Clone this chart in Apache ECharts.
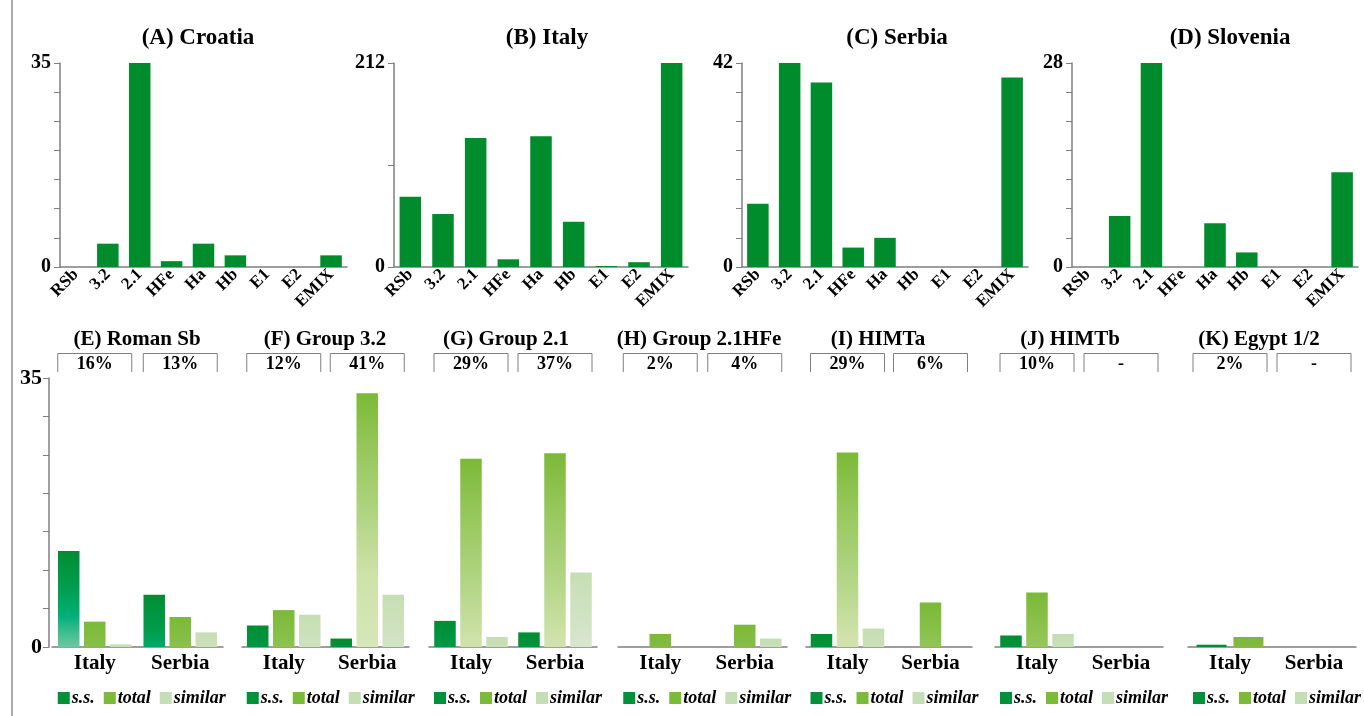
<!DOCTYPE html>
<html>
<head>
<meta charset="utf-8">
<script src="https://cdn.jsdelivr.net/npm/echarts@6/dist/echarts.min.js"></script>
<style>
  html, body { margin: 0; padding: 0; background: #ffffff; }
  #chart { width: 1364px; height: 716px; }
</style>
</head>
<body>
<div id="chart"></div>
<script>
// ---- haplogroup counts per country (panels A-D) ----
const haplogroups = ['RSb', '3.2', '2.1', 'HFe', 'Ha', 'Hb', 'E1', 'E2', 'EMIX'];
const countryTitles = ['(A) Croatia', '(B) Italy', '(C) Serbia', '(D) Slovenia'];
const croatiaCounts = [0, 4, 35, 1, 4, 2, 0, 0, 2];
const italyCounts = [73, 55, 134, 8, 136, 47, 1, 5, 212];
const serbiaCounts = [13, 42, 38, 4, 6, 0, 0, 0, 39];
const sloveniaCounts = [0, 7, 28, 0, 6, 2, 0, 0, 13];
const countryAxisMax = [35, 212, 42, 28];
const countryAxisStep = [5, 106, 6, 4];

// ---- group comparison Italy vs Serbia (panels E-K) ----
const compareCountries = ['Italy', 'Serbia'];
const groupTitles = ['(E) Roman Sb', '(F) Group 3.2', '(G) Group 2.1', '(H) Group 2.1HFe', '(I) HIMTa', '(J) HIMTb', '(K) Egypt 1/2'];
const groupShares = [['16%', '13%'], ['12%', '41%'], ['29%', '37%'], ['2%', '4%'], ['29%', '6%'], ['10%', '-'], ['2%', '-']];
const ssValues = [[12.5, 6.8], [2.8, 1.1], [3.4, 1.9], [0, 0], [1.7, 0], [1.5, 0], [0.3, 0]];
const totalValues = [[3.3, 3.9], [4.8, 33.0], [24.5, 25.2], [1.7, 2.9], [25.3, 5.8], [7.1, 0], [1.3, 0]];
const similarValues = [[0.35, 1.9], [4.2, 6.8], [1.3, 9.7], [0, 1.1], [2.4, 0], [1.7, 0], null];
const compareAxisMax = 35;
const compareAxisStep = 5;
const seriesNames = ['s.s.', 'total', 'similar'];

// ---- layout ----
const W = 1364, H = 716;
const FONT = "'Liberation Serif', 'Times New Roman', serif";
const AXIS_GREY = '#7f7f7f';
const topGridX = [[60, 347], [394, 688], [742, 1028], [1072, 1358]];
const topGridY = [63, 267];
const topTitleX = [198, 547, 897, 1230];
const bottomGridX = [[52, 223], [242, 409], [429, 597], [618, 787], [806, 972], [995, 1163], [1188, 1356]];
const bottomGridY = [378, 647];
const bottomTitleX = [137, 325, 506, 699, 878, 1070, 1259];

// colours
const BAR_GREEN = '#008b2d';
const legendColors = { 's.s.': '#00913a', 'total': '#7cba3a', 'similar': '#c6deb5' };
// gradient stops measured from the top of each bar, in axis units
const ssStops = [[0, '#008d32'], [5, '#009f50'], [8.5, '#00b07a'], [10, '#2db98a'], [12.5, '#6cc9a2']];
const totalStops = [[0, '#7bb937'], [6, '#92c555'], [15, '#aed37f'], [24, '#cfe2aa'], [33, '#d6e7b8']];
const similarStops = [[0, '#c6deb4'], [7, '#d3e4c6'], [10, '#d9e6cf']];

function hexToRgb(h) {
  const n = parseInt(h.slice(1), 16);
  return [(n >> 16) & 255, (n >> 8) & 255, n & 255];
}
function mix(a, b, t) {
  const A = hexToRgb(a), B = hexToRgb(b);
  const c = A.map((v, i) => Math.round(v + (B[i] - v) * t));
  return 'rgb(' + c.join(',') + ')';
}
function shade(stops, v) {
  if (v <= 0) return stops[0][1];
  const cs = [];
  for (let i = 0; i < stops.length; i++) {
    const u = stops[i][0], c = stops[i][1];
    if (u <= v) {
      cs.push({ offset: u / v, color: c });
    } else {
      const u0 = stops[i - 1][0], c0 = stops[i - 1][1];
      cs.push({ offset: 1, color: mix(c0, c, (v - u0) / (u - u0)) });
      break;
    }
  }
  return { type: 'linear', x: 0, y: 0, x2: 0, y2: 1, colorStops: cs };
}

const grid = [], xAxis = [], yAxis = [], series = [], legend = [], graphic = [];

// frame line on the left
graphic.push({ type: 'line', shape: { x1: 12, y1: 0, x2: 12, y2: H }, style: { stroke: '#8c8c8c', lineWidth: 1.5 } });

// ---- panels A-D ----
const countryCounts = [croatiaCounts, italyCounts, serbiaCounts, sloveniaCounts];
countryCounts.forEach((counts, i) => {
  const [x0, x1] = topGridX[i];
  grid.push({ left: x0, right: W - x1, top: topGridY[0], height: topGridY[1] - topGridY[0] });
  xAxis.push({
    type: 'category', gridIndex: i, data: haplogroups,
    axisLine: { lineStyle: { color: AXIS_GREY, width: 1.5 } },
    axisTick: { show: false },
    axisLabel: { interval: 0, rotate: 45, margin: 5, color: '#000', fontFamily: FONT, fontWeight: 'bold', fontSize: 17 }
  });
  const mx = countryAxisMax[i];
  yAxis.push({
    type: 'value', gridIndex: i, min: 0, max: mx, interval: countryAxisStep[i],
    splitLine: { show: false },
    axisLine: { show: true, lineStyle: { color: AXIS_GREY, width: 1.5 } },
    axisTick: { show: true, length: 6, lineStyle: { color: AXIS_GREY } },
    axisLabel: {
      margin: 9, color: '#000', fontFamily: FONT, fontWeight: 'bold', fontSize: 20,
      formatter: v => (v === 0 || v === mx) ? String(v) : ''
    }
  });
  series.push({
    type: 'bar', name: countryTitles[i], xAxisIndex: i, yAxisIndex: i,
    data: counts, barWidth: 21.5, itemStyle: { color: BAR_GREEN }, silent: true
  });
  graphic.push({
    type: 'text', x: topTitleX[i], y: 38,
    style: { text: countryTitles[i], fill: '#000', font: 'bold 23px ' + FONT, textAlign: 'center', textVerticalAlign: 'middle' }
  });
});

// ---- panels E-K ----
groupTitles.forEach((title, g) => {
  const gi = 4 + g;
  const [x0, x1] = bottomGridX[g];
  grid.push({ left: x0, right: W - x1, top: bottomGridY[0], height: bottomGridY[1] - bottomGridY[0] });
  xAxis.push({
    type: 'category', gridIndex: gi, data: compareCountries,
    axisLine: { lineStyle: { color: AXIS_GREY, width: 1.5 } },
    axisTick: { show: false },
    axisLabel: { interval: 0, margin: 6, color: '#000', fontFamily: FONT, fontWeight: 'bold', fontSize: 21 }
  });
  yAxis.push({
    type: 'value', gridIndex: gi, min: 0, max: compareAxisMax, interval: compareAxisStep,
    show: g === 0, offset: g === 0 ? 3 : 0,
    splitLine: { show: false },
    axisLine: { show: true, lineStyle: { color: AXIS_GREY, width: 1.5 } },
    axisTick: { show: true, length: 6, lineStyle: { color: AXIS_GREY } },
    axisLabel: {
      margin: 7, color: '#000', fontFamily: FONT, fontWeight: 'bold', fontSize: 22,
      formatter: v => (v === 0 || v === compareAxisMax) ? String(v) : ''
    }
  });
  const sets = [[ssValues[g], ssStops], [totalValues[g], totalStops], [similarValues[g], similarStops]];
  const nBars = sets.filter(s => s[0]).length;
  sets.forEach(([vals, stops], k) => {
    if (!vals) return;
    series.push({
      type: 'bar', name: seriesNames[k], xAxisIndex: gi, yAxisIndex: gi,
      barWidth: nBars === 3 ? 21.5 : 30, barGap: nBars === 3 ? '21%' : '23%',
      itemStyle: { color: legendColors[seriesNames[k]] },
      data: vals.map(v => ({ value: v, itemStyle: { color: shade(stops, v) } })),
      silent: true
    });
  });

  // title and share brackets
  graphic.push({
    type: 'text', x: bottomTitleX[g], y: 340,
    style: { text: title, fill: '#000', font: 'bold 21px ' + FONT, textAlign: 'center', textVerticalAlign: 'middle' }
  });
  const cw = (x1 - x0) / 2;
  groupShares[g].forEach((share, c) => {
    const cx = x0 + cw * (c + 0.5);
    const bx0 = cx - 37, bx1 = cx + 37;
    graphic.push({
      type: 'polyline',
      shape: { points: [[bx0, 372], [bx0, 353.5], [bx1, 353.5], [bx1, 372]] },
      style: { stroke: AXIS_GREY, lineWidth: 1, fill: null }
    });
    graphic.push({
      type: 'text', x: cx, y: 364,
      style: { text: share, fill: '#000', font: 'bold 18px ' + FONT, textAlign: 'center', textVerticalAlign: 'middle' }
    });
  });

  legend.push({
    left: x0 + cw / 2 - 37 - 5, top: 684, width: 220,
    itemWidth: 12, itemHeight: 12, itemGap: 9, icon: 'rect', selectedMode: false,
    data: seriesNames.map(n => ({ name: n, itemStyle: { color: legendColors[n] } })),
    textStyle: { fontFamily: FONT, fontSize: 18, fontWeight: 'bold', fontStyle: 'italic', color: '#000', padding: [0, 0, 0, -3] }
  });
});

const chart = echarts.init(document.getElementById('chart'), null, { renderer: 'canvas' });
chart.setOption({
  animation: false,
  backgroundColor: '#ffffff',
  grid, xAxis, yAxis, series, legend, graphic
});
</script>
</body>
</html>
